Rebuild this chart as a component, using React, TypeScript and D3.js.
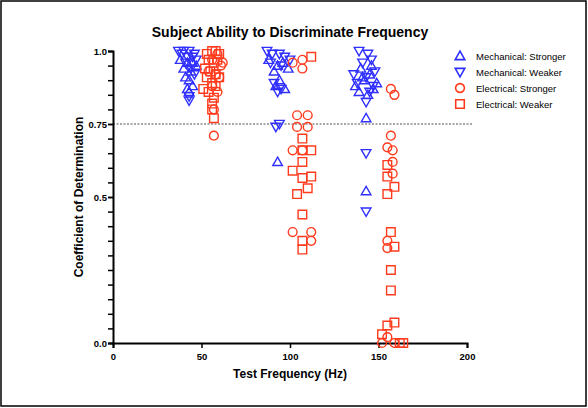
import React, { useRef, useEffect } from "react";
import * as d3 from "d3";

// frequency (jittered, Hz) and coefficient values
const mechStrongF = [38, 42, 45, 40, 44, 47, 41, 43, 45, 42, 43, 88, 93, 96, 91, 99, 94, 92, 97, 93, 140, 145, 142, 137, 147, 139, 144, 149, 141, 146, 143, 143];
const mechStrongV = [0.97, 0.96, 0.96, 0.94, 0.93, 0.95, 0.91, 0.9, 0.88, 0.87, 0.86, 0.97, 0.95, 0.96, 0.93, 0.94, 0.9, 0.88, 0.87, 0.62, 0.94, 0.92, 0.9, 0.88, 0.87, 0.86, 0.85, 0.89, 0.91, 0.95, 0.77, 0.52];

const mechWeakF = [37, 40, 43, 46, 39, 42, 45, 47, 41, 44, 46, 43, 43, 87, 90, 94, 97, 100, 89, 95, 91, 95, 93, 94, 92, 139, 144, 146, 141, 148, 136, 143, 147, 138, 145, 143, 143, 143];
const mechWeakV = [1.0, 1.0, 1.0, 0.99, 0.99, 0.98, 0.98, 0.97, 0.96, 0.94, 0.92, 0.845, 0.83, 1.0, 0.99, 0.99, 0.98, 0.97, 0.96, 0.95, 0.89, 0.87, 0.86, 0.75, 0.74, 1.0, 0.99, 0.97, 0.96, 0.93, 0.92, 0.91, 0.88, 0.89, 0.86, 0.825, 0.65, 0.45];

const elecStrongF = [59, 56, 62, 61, 54, 58, 60, 56, 59, 57, 57, 101.5, 107, 107, 104, 110, 104, 110, 101.5, 107, 101.5, 112, 112, 157, 159, 157, 155, 158, 158, 158, 155, 155, 155, 152, 159];
const elecStrongV = [0.99, 0.97, 0.96, 0.95, 0.93, 0.92, 0.91, 0.88, 0.86, 0.8, 0.71, 0.96, 0.97, 0.94, 0.78, 0.78, 0.74, 0.74, 0.66, 0.66, 0.38, 0.38, 0.35, 0.87, 0.85, 0.71, 0.67, 0.66, 0.62, 0.58, 0.35, 0.325, 0.02, 0.0, 0.0];

const elecWeakF = [53, 56, 58, 60, 54, 57, 59, 52, 55, 58, 60, 53, 56, 58, 51, 54, 57, 56, 56, 57, 112, 107, 112, 107, 107, 101.5, 112, 107, 110, 104, 107, 107, 107, 155, 155, 159, 155, 157, 159, 157, 157, 159, 155, 152, 162, 164];
const elecWeakV = [0.99, 1.0, 1.0, 0.99, 0.97, 0.96, 0.97, 0.94, 0.93, 0.92, 0.91, 0.91, 0.89, 0.88, 0.87, 0.86, 0.84, 0.82, 0.8, 0.77, 0.98, 0.7, 0.66, 0.66, 0.62, 0.59, 0.57, 0.565, 0.53, 0.51, 0.44, 0.35, 0.32, 0.61, 0.57, 0.535, 0.51, 0.38, 0.33, 0.25, 0.18, 0.07, 0.06, 0.03, 0.0, 0.0];

const seriesNames = ["Mechanical: Stronger", "Mechanical: Weaker", "Electrical: Stronger", "Electrical: Weaker"];
const xTicks = [0, 50, 100, 150, 200];
const yLabelTicks = [0, 0.5, 0.75, 1.0];
const yTickLabels = ["0.0", "0.5", "0.75", "1.0"];

const BLUE = "#2f2fff";
const RED = "#ff3b1e";

const App = () => {
  const width = 588;
  const height = 408;
  const margin = { top: 51, bottom: 65, left: 113, right: 121 };
  const svgRef = useRef(null);

  useEffect(() => {
    const svg = d3.select(svgRef.current);
    svg.selectAll("*").remove();

    const x = d3.scaleLinear([0, 200], [margin.left, width - margin.right]);
    const y = d3.scaleLinear([0, 1], [height - margin.bottom, margin.top]);
    const font = "'Liberation Sans', Arial, sans-serif";

    // frame
    svg.append("rect")
      .attr("x", 1).attr("y", 1).attr("width", width - 3).attr("height", height - 3)
      .attr("fill", "white").attr("stroke", "black").attr("stroke-width", 1.5);

    // threshold line
    svg.append("line")
      .attr("x1", x(0)).attr("x2", x(200) + 6)
      .attr("y1", y(0.75)).attr("y2", y(0.75))
      .attr("stroke", "#222").attr("stroke-width", 0.8).attr("stroke-dasharray", "2,1.5");

    // x axis
    const xAxis = d3.axisBottom(x).tickValues(xTicks).tickSize(5).tickFormat(d3.format("d"));
    const gx = svg.append("g").attr("transform", `translate(0,${y(0)})`).call(xAxis);
    gx.select(".domain").attr("stroke-width", 2);
    gx.selectAll(".tick line").attr("stroke-width", 1.5);
    gx.selectAll("text").attr("font-family", font).attr("font-weight", "bold").attr("font-size", 9.5).attr("dy", "0.9em");

    // y axis: minor ticks every 0.05
    const minor = d3.range(0, 21).map((i) => i * 0.05);
    const gyMinor = svg.append("g").attr("transform", `translate(${x(0)},0)`)
      .call(d3.axisLeft(y).tickValues(minor).tickSize(5).tickFormat(() => ""));
    gyMinor.select(".domain").attr("stroke-width", 2);
    gyMinor.selectAll(".tick line").attr("stroke-width", 1.5);

    const gy = svg.append("g").attr("transform", `translate(${x(0)},0)`)
      .call(d3.axisLeft(y).tickValues(yLabelTicks).tickSize(5)
        .tickFormat((d, i) => yTickLabels[i]));
    gy.select(".domain").remove();
    gy.selectAll(".tick line").attr("stroke-width", 1.5);
    gy.selectAll("text").attr("font-family", font).attr("font-weight", "bold").attr("font-size", 9.5).attr("x", -6);

    // markers
    const tri = (up) => (cx, cy) => {
      const s = up ? 1 : -1;
      return `M${cx},${cy - 4.8 * s}L${cx + 4.8},${cy + 3.6 * s}L${cx - 4.8},${cy + 3.6 * s}Z`;
    };
    const circ = (cx, cy) => `M${cx + 4.4},${cy}A4.4,4.4 0 1,1 ${cx - 4.4},${cy}A4.4,4.4 0 1,1 ${cx + 4.4},${cy}Z`;
    const sq = (cx, cy) => `M${cx - 4.3},${cy - 4.3}h8.6v8.6h-8.6Z`;

    const series = [
      { f: mechStrongF, v: mechStrongV, color: BLUE, shape: tri(true) },
      { f: mechWeakF, v: mechWeakV, color: BLUE, shape: tri(false) },
      { f: elecStrongF, v: elecStrongV, color: RED, shape: circ },
      { f: elecWeakF, v: elecWeakV, color: RED, shape: sq },
    ];

    series.forEach((s) => {
      svg.append("g").selectAll("path")
        .data(s.f.map((f, i) => ({ f, v: s.v[i] })))
        .join("path")
        .attr("d", (d) => s.shape(x(d.f), y(d.v)))
        .attr("fill", "none")
        .attr("stroke", s.color)
        .attr("stroke-width", 1.4);
    });

    // legend
    const legend = svg.append("g");
    series.forEach((s, i) => {
      const ly = 56 + i * 16;
      legend.append("path").attr("d", s.shape(460, ly))
        .attr("fill", "none").attr("stroke", s.color).attr("stroke-width", 1.6);
      legend.append("text").attr("x", 476).attr("y", ly + 3.5)
        .attr("font-family", font).attr("font-size", 9.5)
        .text(seriesNames[i]);
    });

    // titles
    svg.append("text").attr("x", 290).attr("y", 37).attr("text-anchor", "middle")
      .attr("font-family", font).attr("font-weight", "bold").attr("font-size", 14)
      .text("Subject Ability to Discriminate Frequency");
    svg.append("text").attr("x", 290).attr("y", 378).attr("text-anchor", "middle")
      .attr("font-family", font).attr("font-weight", "bold").attr("font-size", 12)
      .text("Test Frequency (Hz)");
    svg.append("text").attr("transform", `translate(83,${y(0.5)}) rotate(-90)`)
      .attr("text-anchor", "middle")
      .attr("font-family", font).attr("font-weight", "bold").attr("font-size", 12)
      .text("Coefficient of Determination");
  }, []);

  return (
    <svg width={width} height={height} ref={svgRef}
      style={{ position: "absolute", left: 0, top: 0, background: "white" }} />
  );
};

export default App;
